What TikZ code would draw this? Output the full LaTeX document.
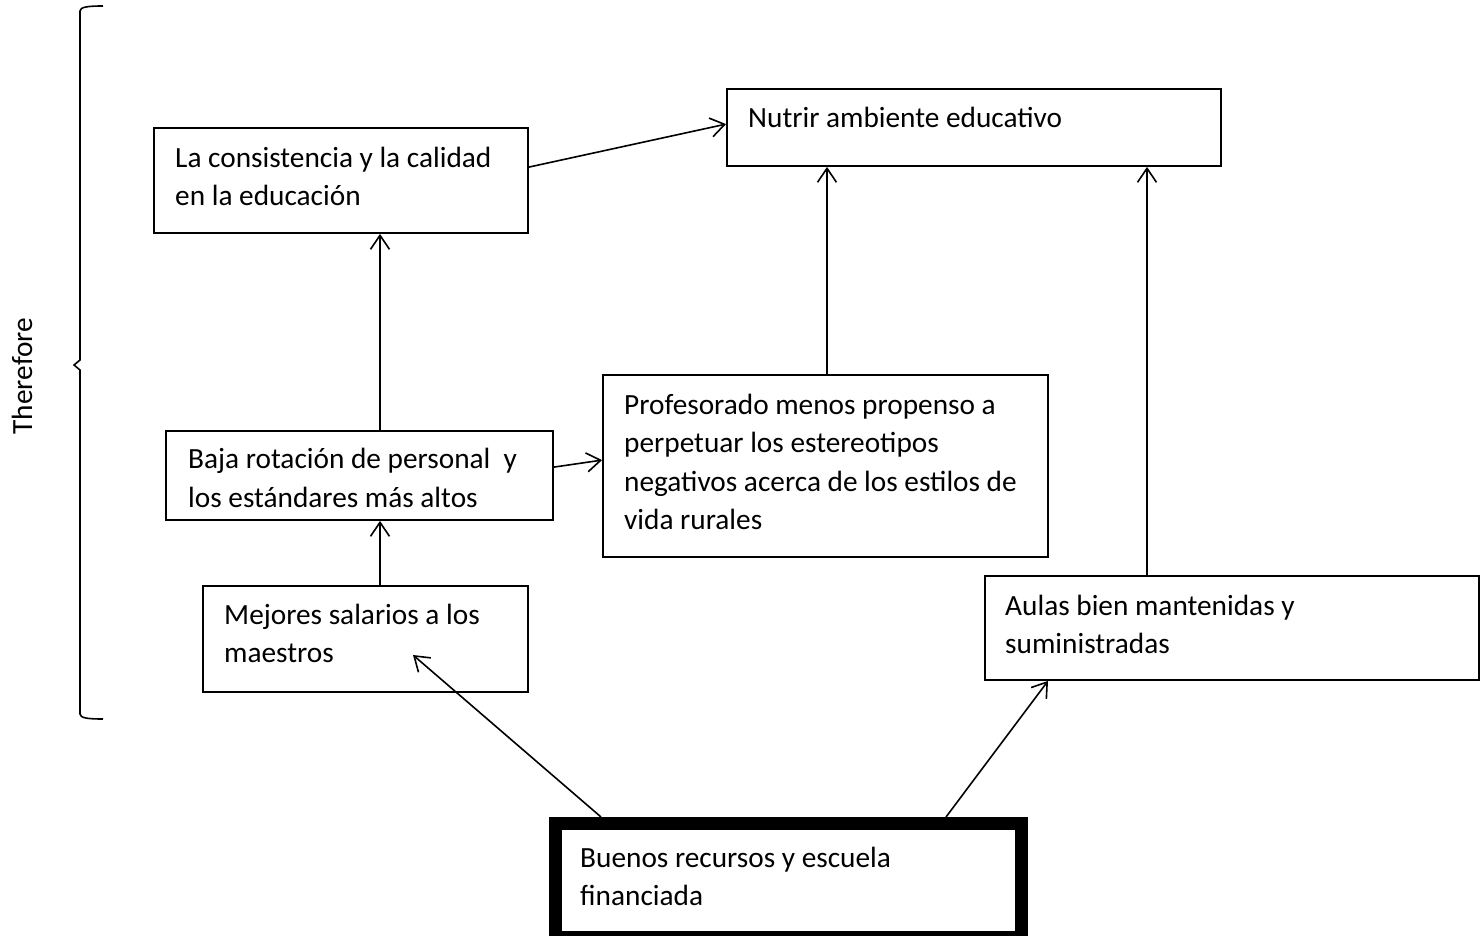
\documentclass[tikz,border=0pt]{standalone}
\usepackage{fontspec}
\setmainfont{Carlito}
\usetikzlibrary{arrows.meta,calc}
\tikzset{
  box/.style={draw, line width=1.8pt, inner sep=0pt},
  thickbox/.style={draw, line width=13pt, inner sep=0pt},
  lbl/.style={anchor=base west, inner sep=0pt, align=left, font=\fontsize{29.3}{38.3}\selectfont},
  arr/.style={line width=1.6pt, -{Straight Barb[length=14pt,width=19pt,line width=1.6pt]}},
}
\begin{document}
\begin{tikzpicture}[x=1pt,y=-1pt]
\useasboundingbox (0,0) rectangle (1484,936);
\clip (0,0) rectangle (1484,936);
% boxes
\node[box, minimum width=374pt, minimum height=105pt] (b1) at (341,180.5) {};
\node[box, minimum width=494pt, minimum height=77pt] (b2) at (974,127.5) {};
\node[box, minimum width=387pt, minimum height=89pt] (b3) at (359.5,475.5) {};
\node[box, minimum width=445pt, minimum height=182pt] (b4) at (825.5,466) {};
\node[box, minimum width=325pt, minimum height=106pt] (b5) at (365.5,639) {};
\node[box, minimum width=494pt, minimum height=104pt] (b6) at (1232,628) {};
\node[thickbox, minimum width=466pt, minimum height=114pt] (b7) at (788.5,880.5) {};
% texts (positioned at the baseline of their last line)
\node[lbl] (t1) at (175,205.5) {La consistencia y la calidad\\en la educación};
\node[lbl] (t2) at (748,127.5) {Nutrir ambiente educativo};
\node[lbl] (t3) at (188,507) {Baja rotación de personal\ \ y\\los estándares más altos};
\node[lbl] (t4) at (624,529.5) {Profesorado menos propenso a\\perpetuar los estereotipos\\negativos acerca de los estilos de\\vida rurales};
\node[lbl] (t5) at (224,662.5) {Mejores salarios a los\\maestros};
\node[lbl] (t6) at (1005,653.5) {Aulas bien mantenidas y\\suministradas};
\node[lbl] (t7) at (580,905.5) {Buenos recursos y escuela\\financiada};
% brace and label
\draw[line width=1.6pt] (103,6) .. controls (88,6) and (80,7) .. (80,11) -- (80,360) -- (74,365) -- (80,370) -- (80,714) .. controls (80,718) and (88,719) .. (103,719);
\node[rotate=90, inner sep=0pt, font=\fontsize{29.3}{34}\selectfont] (tf) at (22,376) {Therefore};
% connector helper coordinates
\coordinate (xa) at (380,0);
\coordinate (xb) at (827,0);
\coordinate (xc) at (1147,0);
\coordinate (xd) at (1048,0);
\coordinate (p5) at (413,655);
% connectors
\draw[arr] ($(b1.north east)+(0,40)$) -- ($(b2.north west)+(0,36)$);
\draw[arr] (b3.north -| xa) -- (b1.south -| xa);
\draw[arr] (b5.north -| xa) -- (b3.south -| xa);
\draw[arr] ($(b3.north east)+(0,37)$) -- ($(b4.north west)+(0,86)$);
\draw[arr] (b4.north -| xb) -- (b2.south -| xb);
\draw[arr] (b6.north -| xc) -- (b2.south -| xc);
\draw[arr] ($(b7.north west)+(52,0)$) -- (p5);
\draw[arr] ($(b7.north west)+(397,0)$) -- (b6.south -| xd);
\end{tikzpicture}
\end{document}
